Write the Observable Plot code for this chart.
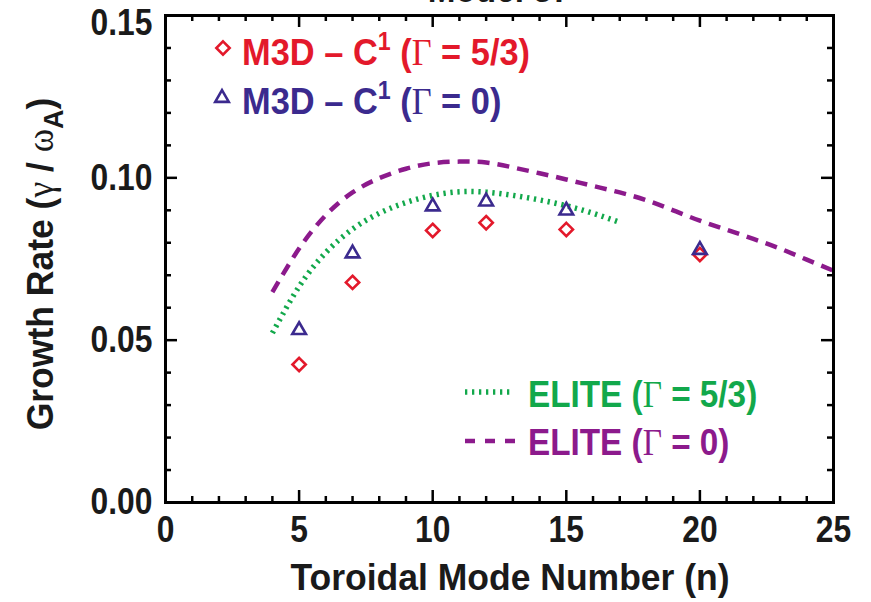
<!DOCTYPE html>
<html>
<head>
<meta charset="utf-8">
<script src="https://cdn.jsdelivr.net/npm/d3@7"></script>
<script src="https://cdn.jsdelivr.net/npm/@observablehq/plot@0.6"></script>
<style>
  html, body { margin: 0; padding: 0; background: white; }
  #chart svg text { font-family: "Liberation Sans", Arial, sans-serif; font-weight: bold; }
</style>
</head>
<body>
<div id="chart"></div>
<script>
// ---- data ----
const nM3D = [5, 7, 10, 12, 15, 20];
const m3dGamma53 = [0.0425, 0.0678, 0.0838, 0.0862, 0.0841, 0.0764];
const m3dGamma0 = [0.0531, 0.0767, 0.0912, 0.0927, 0.0899, 0.0778];

const nEliteGamma53 = [4, 5, 6, 7, 8, 9, 10, 11, 12, 13, 14, 15, 16, 17];
const eliteGamma53 = [0.0522, 0.0665, 0.0770, 0.0842, 0.0891, 0.0924, 0.0946, 0.0957, 0.0956, 0.0946, 0.0932, 0.0914, 0.0891, 0.0863];

const nEliteGamma0 = [4, 5, 6, 7, 8, 9, 10, 11, 12, 13, 14, 15, 16, 17, 18, 19, 20, 21, 22, 23, 24, 25];
const eliteGamma0 = [0.0648, 0.0782, 0.0885, 0.0955, 0.0999, 0.1028, 0.1045, 0.1050, 0.1047, 0.1032, 0.1014, 0.0995, 0.0975, 0.0955, 0.0931, 0.0900, 0.0868, 0.0840, 0.0812, 0.0782, 0.0748, 0.0714];

const xMajorTicks = [0, 5, 10, 15, 20, 25];
const xMinorTicks = [1, 2, 3, 4, 6, 7, 8, 9, 11, 12, 13, 14, 16, 17, 18, 19, 21, 22, 23, 24];
const yMajorTicks = [0, 0.05, 0.10, 0.15];
const yMinorTicks = [0.01, 0.02, 0.03, 0.04, 0.06, 0.07, 0.08, 0.09, 0.11, 0.12, 0.13, 0.14];

const titleText = "Model 37";
const xLabel = "Toroidal Mode Number (n)";

// ---- colours ----
const RED = "#e3192b";
const NAVY = "#3b2a8e";
const GREEN = "#12a84b";
const PURPLE = "#8c1a8c";

const m3d = nM3D.map((n, i) => ({n, g53: m3dGamma53[i], g0: m3dGamma0[i]}));
const elite53 = nEliteGamma53.map((n, i) => ({n, g: eliteGamma53[i]}));
const elite0 = nEliteGamma0.map((n, i) => ({n, g: eliteGamma0[i]}));

const W = 871, H = 602;
const mL = 165, mR = 38, mT = 15, mB = 100;
const pw = W - mL - mR, ph = H - mT - mB;
const MAJ = 12, MIN = 6;

const plot = Plot.plot({
  width: W, height: H,
  marginLeft: mL, marginRight: mR, marginTop: mT, marginBottom: mB,
  x: {domain: [0, 25]},
  y: {domain: [0, 0.15]},
  style: {fontSize: "37px", background: "white", overflow: "visible"},
  marks: [
    Plot.line(elite0, {x: "n", y: "g", curve: "natural", stroke: PURPLE, strokeWidth: 4.5, strokeDasharray: "12,8", strokeLinecap: "butt"}),
    Plot.line(elite53, {x: "n", y: "g", curve: "natural", stroke: GREEN, strokeWidth: 5.5, strokeDasharray: "2.3,4.7", strokeLinecap: "butt"}),
    Plot.dot(m3d, {x: "n", y: "g53", symbol: "diamond2", r: 6, stroke: RED, strokeWidth: 2.6}),
    Plot.dot(m3d, {x: "n", y: "g0", symbol: "triangle2", r: 6.5, stroke: NAVY, strokeWidth: 2.6}),
    // inward ticks on all four sides
    Plot.tickX(xMajorTicks, {x: d => d, insetTop: ph - MAJ, stroke: "black", strokeWidth: 2.5}),
    Plot.tickX(xMajorTicks, {x: d => d, insetBottom: ph - MAJ, stroke: "black", strokeWidth: 2.5}),
    Plot.tickX(xMinorTicks, {x: d => d, insetTop: ph - MIN, stroke: "black", strokeWidth: 2.5}),
    Plot.tickX(xMinorTicks, {x: d => d, insetBottom: ph - MIN, stroke: "black", strokeWidth: 2.5}),
    Plot.tickY(yMajorTicks, {y: d => d, insetRight: pw - MAJ, stroke: "black", strokeWidth: 2.5}),
    Plot.tickY(yMajorTicks, {y: d => d, insetLeft: pw - MAJ, stroke: "black", strokeWidth: 2.5}),
    Plot.tickY(yMinorTicks, {y: d => d, insetRight: pw - MIN, stroke: "black", strokeWidth: 2.5}),
    Plot.tickY(yMinorTicks, {y: d => d, insetLeft: pw - MIN, stroke: "black", strokeWidth: 2.5}),
    Plot.axisX(xMajorTicks, {tickSize: 0, tickPadding: 13, fontSize: 37, fill: "#1a1a1a", tickFormat: d => String(d), label: null}),
    Plot.axisY(yMajorTicks, {tickSize: 0, tickPadding: 13, fontSize: 37, fill: "#1a1a1a", tickFormat: d => d.toFixed(2), label: null}),
    Plot.frame({stroke: "black", strokeWidth: 3})
  ]
});

document.getElementById("chart").appendChild(plot);

// narrow (condensed) look for the axis tick labels
plot.querySelectorAll('[aria-label="x-axis tick label"] text, [aria-label="y-axis tick label"] text').forEach(el => {
  let t = el.getAttribute("transform") || "";
  if (el.textContent === "0.15") t += " translate(0,8)";
  el.setAttribute("transform", t + " scale(0.86,1)");
});

// ---- rich text: titles & legend ----
const svg = d3.select(plot);
const serif = "'Liberation Serif', 'DejaVu Serif', serif";

function ntext(x, y, anchor, sx, extra) {
  return svg.append("text")
    .attr("transform", `translate(${x},${y}) ${extra || ""} scale(${sx},1)`)
    .attr("text-anchor", anchor).attr("font-size", 37);
}

ntext(mL + pw / 2, 2, "middle", 0.9).attr("fill", "#1a1a1a").text(titleText);
ntext(510, 590, "middle", 0.96).attr("fill", "#1a1a1a").text(xLabel);

const yl = ntext(53, 264, "middle", 0.96, "rotate(-90)").attr("fill", "#1a1a1a");
yl.append("tspan").text("Growth Rate (");
yl.append("tspan").style("font-family", serif).style("font-weight", "normal").text("γ");
yl.append("tspan").text(" / ");
yl.append("tspan").style("font-family", serif).style("font-weight", "normal").text("ω");
yl.append("tspan").attr("font-size", 28).attr("dy", 10).text("A");
yl.append("tspan").attr("dy", -10).text(")");

function legendText(x, y, color, sx, pre, sup, post) {
  const t = ntext(x, y, "start", sx).attr("fill", color);
  t.append("tspan").text(pre);
  if (sup) {
    t.append("tspan").attr("font-size", 25).attr("dy", -15).text(sup);
    t.append("tspan").attr("dy", 15).text(" (");
  } else {
    t.append("tspan").text("(");
  }
  t.append("tspan").style("font-family", serif).style("font-weight", "normal").text("Γ");
  t.append("tspan").text(post);
}

svg.append("path").attr("transform", "translate(223,48)")
  .attr("d", d3.symbol(d3.symbolDiamond2, Math.PI * 36)()).attr("fill", "none").attr("stroke", RED).attr("stroke-width", 2.6);
legendText(242, 65, RED, 0.93, "M3D – C", "1", " = 5/3)");

svg.append("path").attr("transform", "translate(222,98)")
  .attr("d", d3.symbol(d3.symbolTriangle2, Math.PI * 42)()).attr("fill", "none").attr("stroke", NAVY).attr("stroke-width", 2.6);
legendText(242, 114, NAVY, 0.93, "M3D – C", "1", " = 0)");

svg.append("line").attr("x1", 465).attr("x2", 512).attr("y1", 392).attr("y2", 392)
  .attr("stroke", GREEN).attr("stroke-width", 5.5).attr("stroke-dasharray", "2.3,4.7");
legendText(528, 407, GREEN, 0.9, "ELITE ", null, " = 5/3)");

svg.append("line").attr("x1", 465).attr("x2", 516).attr("y1", 441).attr("y2", 441)
  .attr("stroke", PURPLE).attr("stroke-width", 4.5).attr("stroke-dasharray", "10,10");
legendText(528, 455, PURPLE, 0.9, "ELITE ", null, " = 0)");
</script>
</body>
</html>
